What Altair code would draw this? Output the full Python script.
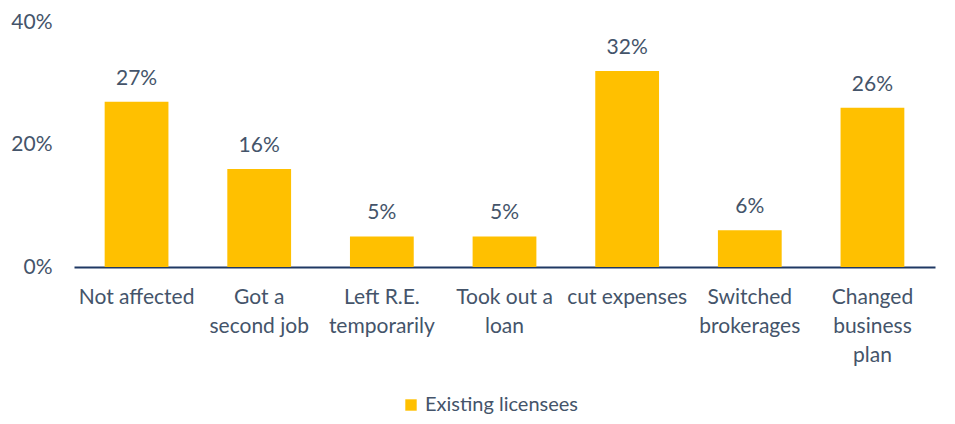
import altair as alt
import pandas as pd

categories = ["Not affected", "Got a|second job", "Left R.E.|temporarily", "Took out a|loan",
              "cut expenses", "Switched|brokerages", "Changed|business|plan"]
values = [27, 16, 5, 5, 32, 6, 26]
series = "Existing licensees"

df = pd.DataFrame({"cat": categories, "val": values, "series": series})
df["lbl"] = df["val"].astype(str) + "%"

FONT = "Lato"
FS = 21
TXT = "#44546A"

base = alt.Chart(df).encode(
    x=alt.X("cat:N", sort=categories, title=None,
            scale=alt.Scale(paddingInner=0.48, paddingOuter=0.25),
            axis=alt.Axis(labelExpr="split(datum.label, '|')", labelAngle=0,
                          labelFont=FONT, labelFontSize=FS, labelColor=TXT,
                          labelLineHeight=29, labelPadding=19, labelBaseline="top",
                          domainColor="#1F3864", domainWidth=2, ticks=False, grid=False)),
)

bars = base.mark_bar(color="#FFC000").encode(
    y=alt.Y("val:Q", title=None,
            scale=alt.Scale(domain=[0, 40]),
            axis=alt.Axis(values=[0, 20, 40], labelExpr="datum.value + '%'",
                          labelFont=FONT, labelFontSize=FS, labelColor=TXT,
                          labelPadding=22, domain=False, ticks=False, grid=False)),
    color=alt.Color("series:N", title=None,
                    scale=alt.Scale(range=["#FFC000"]),
                    legend=alt.Legend(orient="none", legendX=327, legendY=373,
                                      symbolType="square", symbolSize=130,
                                      symbolStrokeWidth=0, labelLimit=400,
                                      labelFont=FONT, labelFontSize=20, labelColor=TXT)),
)

text = base.mark_text(dy=-13, baseline="bottom", font=FONT, fontSize=FS, color=TXT).encode(
    y=alt.Y("val:Q"),
    text="lbl:N",
)

chart = (bars + text).properties(
    width=861, height=245,
    autosize=alt.AutoSizeParams(type="none"),
    padding={"left": 66, "top": 14, "right": 12, "bottom": 149},
).configure_view(stroke=None)

chart.save("out.html", embed_options={"renderer": "svg", "actions": False})
